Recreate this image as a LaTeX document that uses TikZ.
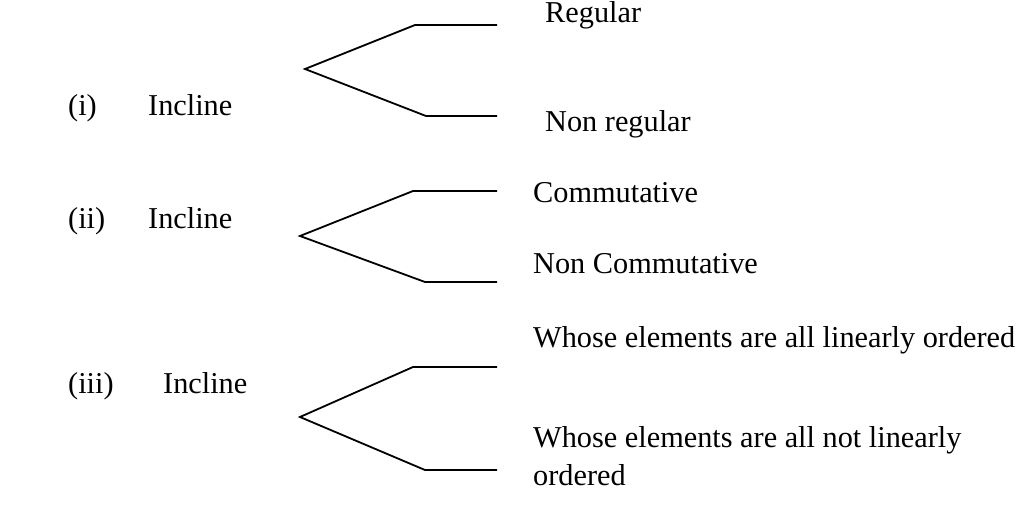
\documentclass[tikz,border=0pt]{standalone}
\usepackage{fontspec}
\setmainfont{Liberation Serif}
\begin{document}
\begin{tikzpicture}[x=1pt,y=-1pt,
  lbl/.style={anchor=base west,inner sep=0pt,font=\fontsize{30.3}{38}\selectfont},
  br/.style={line width=1.8pt,black}]
\useasboundingbox (0,0) rectangle (1026,508);
% branch (i)
\node[lbl] (n1) at (68,116) {(i)};
\node[lbl] (c1) at (148,116) {Incline};
\node[lbl] (r1) at (545,23) {Regular};
\node[lbl] (r2) at (545,132) {Non regular};
\coordinate (v1) at (305,69);
\coordinate (a1) at (415,25);
\coordinate (a2) at (497,25);
\coordinate (b1) at (426,116);
\coordinate (b2) at (497,116);
\draw[br] (a2) -- (a1) -- (v1) -- (b1) -- (b2);
% branch (ii)
\node[lbl] (n2) at (68,228) {(ii)};
\node[lbl] (c2) at (148,228) {Incline};
\node[lbl] (s1) at (533,203) {Commutative};
\node[lbl] (s2) at (533,273) {Non Commutative};
\coordinate (v2) at (300,236);
\coordinate (d1) at (413,191);
\coordinate (d2) at (497,191);
\coordinate (e1) at (425,282);
\coordinate (e2) at (497,282);
\draw[br] (d2) -- (d1) -- (v2) -- (e1) -- (e2);
% branch (iii)
\node[lbl] (n3) at (68,393) {(iii)};
\node[lbl] (c3) at (163,393) {Incline};
\node[lbl] (t1) at (533,347) {Whose elements are all linearly ordered};
\node[lbl] (t2) at (533,447) {Whose elements are all not linearly};
\node[lbl] (t3) at (533,485) {ordered};
\coordinate (v3) at (300,417);
\coordinate (f1) at (413,367);
\coordinate (f2) at (497,367);
\coordinate (g1) at (425,470);
\coordinate (g2) at (497,470);
\draw[br] (f2) -- (f1) -- (v3) -- (g1) -- (g2);
\end{tikzpicture}
\end{document}
